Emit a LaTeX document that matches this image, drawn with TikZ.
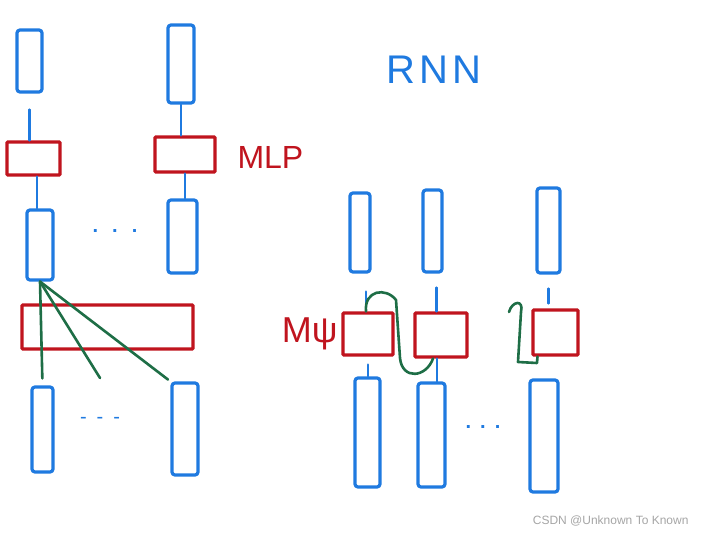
\documentclass[tikz,border=0pt]{standalone}
\usepackage{fontspec}
\setmainfont{Liberation Sans}
\usetikzlibrary{positioning, calc}
\definecolor{penblue}{HTML}{1F7AE0}
\definecolor{penred}{HTML}{C0141E}
\definecolor{pengreen}{HTML}{1E6E46}

\begin{document}
\begin{tikzpicture}[
      x=1pt, y=-1pt,
      vec/.style={draw=penblue, line width=3.2pt, rounded corners=3pt,
                  inner sep=0pt},
      mlp/.style={draw=penred, line width=3.2pt, rounded corners=1pt,
                  inner sep=0pt},
      link/.style={draw=penblue, line width=2.4pt, line cap=round},
      rec/.style={draw=pengreen, line width=2.6pt, line cap=round,
                  line join=round},
      lbl/.style={font=\fontsize{32}{32}\selectfont},
      dots/.style={text=penblue, font=\fontsize{20}{20}\selectfont\bfseries},
    ]
    \useasboundingbox[fill=white] (0,0) rectangle (708,534);

    % MLP side, top row
    \node[vec, minimum width=25, minimum height=62] (x1) at (29.5,61)  {};
    \node[vec, minimum width=26, minimum height=78] (x2) at (181,64)   {};
    \node[mlp, minimum width=53, minimum height=33] (m1) at (33.5,158.5) {};
    \node[mlp, minimum width=60, minimum height=35] (m2) at (185,154.5)  {};
    \node[lbl, text=penred, anchor=west] (mlplbl) at (234,157) {MLP};
    \node[vec, minimum width=26, minimum height=70] (h1) at (40,245)    {};
    \node[vec, minimum width=29, minimum height=73] (h2) at (182.5,236.5) {};
    \node[dots] (hdots) at (115,231) {.\hspace{14pt}.\hspace{14pt}.};

    % MLP side, mixing
    \node[mlp, minimum width=171, minimum height=44] (mix) at (107.5,327) {};
    \node[vec, minimum width=21, minimum height=85] (b1) at (42.5,429.5) {};
    \node[vec, minimum width=26, minimum height=92] (b2) at (185,429)    {};
    \node[dots, font=\fontsize{20}{20}\selectfont] (bdots) at (100,420) {-\hspace{10pt}-\hspace{10pt}-};
    \coordinate (gmid) at (100,378);

    \draw[link, shorten <=16pt] (x1.south) -- (x1.south |- m1.north);
    \draw[link] (x2.south) -- (x2.south |- m2.north);
    \draw[link] ([xshift=-3pt]h1.north |- m1.south) -- ([xshift=-3pt]h1.north);
    \draw[link] (m2.south) -- (m2.south |- h2.north);
    \draw[rec, shorten >=7pt] (h1.south) -- (b1.north);
    \draw[rec] (h1.south) -- (gmid);
    \draw[rec, shorten >=3pt] (h1.south) -- (b2.north west);

    % RNN side
    \node[lbl, text=penblue, font=\fontsize{40}{40}\selectfont] (rnnlbl) at (434,70) {R\hspace{4pt}N\hspace{4pt}N};
    \node[vec, minimum width=20, minimum height=79] (r1) at (360,232.5) {};
    \node[vec, minimum width=19, minimum height=82] (r2) at (432.5,231) {};
    \node[vec, minimum width=23, minimum height=85] (r3) at (548.5,230.5) {};
    \node[mlp, minimum width=50, minimum height=42] (c1) at (368,334)   {};
    \node[mlp, minimum width=52, minimum height=44] (c2) at (441,335)   {};
    \node[mlp, minimum width=45, minimum height=45] (c3) at (555.5,332.5) {};
    \node[lbl, text=penred, font=\fontsize{36}{36}\selectfont, anchor=east] (psilbl) at (341,334) {Mψ};
    \node[vec, minimum width=25, minimum height=109] (d1) at (367.5,432.5) {};
    \node[vec, minimum width=27, minimum height=104] (d2) at (431.5,435) {};
    \node[vec, minimum width=28, minimum height=112] (d3) at (544,436) {};
    \node[dots] (ddots) at (483,427) {.\hspace{9pt}.\hspace{9pt}.};
    \coordinate (hook) at (509,312);

    \draw[link, shorten <=18pt] ([xshift=6pt]r1.south) -- ([xshift=6pt]r1.south |- c1.north);
    \draw[link, shorten <=14pt] ([xshift=4pt]r2.south) -- ([xshift=4pt]r2.south |- c2.north);
    \draw[link, shorten <=14pt, shorten >=5pt] (r3.south) -- (r3.south |- c3.north);
    \draw[link, shorten <=8pt] (c1.south) -- (c1.south |- d1.north);
    \draw[link] ([xshift=-4pt]c2.south) -- ([xshift=-4pt]c2.south |- d2.north);

    \draw[rec] ([xshift=-2pt]c1.north) .. controls (364,290) and (386,287) .. (396,300)
      -- (400,358) .. controls (402,380) and (426,378) .. ([xshift=-8pt]c2.south);
    \draw[rec] (hook) .. controls (512,301) and (524,299) .. (521,312)
      -- (518,362) -- (537,363) -- ([xshift=-18pt]c3.south);

    \node[text=gray!70, font=\fontsize{12}{12}\selectfont, anchor=east] (mark) at (692,521) {CSDN @Unknown To Known};
  \end{tikzpicture}
\end{document}
